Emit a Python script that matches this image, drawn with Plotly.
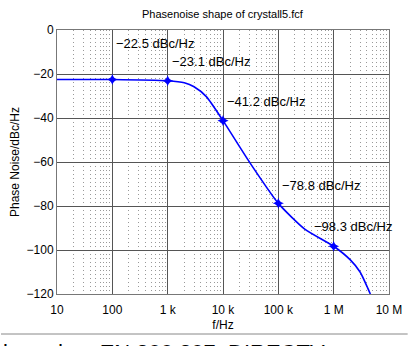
import plotly.graph_objects as go
import numpy as np

# curve (Hz, dBc/Hz)
curve_f = [10, 100, 1000, 2000, 3000, 5000, 10000, 30000, 100000, 300000, 1000000, 2000000, 3000000, 4000000, 4600000]
curve_db = [-22.5, -22.5, -23.1, -24.0, -25.8, -30.3, -41.2, -60.0, -78.8, -90.5, -98.3, -104.5, -110.0, -116.5, -120.0]

# marked points
mark_f = [100, 1000, 10000, 100000, 1000000]
mark_db = [-22.5, -23.1, -41.2, -78.8, -98.3]
mark_text = ["\u221222.5 dBc/Hz", "\u221223.1 dBc/Hz", "\u221241.2 dBc/Hz", "\u221278.8 dBc/Hz", "\u221298.3 dBc/Hz"]

xtick_vals = [10, 100, 1000, 10000, 100000, 1000000, 10000000]
xtick_text = ["10", "100", "1 k", "10 k", "100 k", "1 M", "10 M"]
ytick_vals = [0, -20, -40, -60, -80, -100, -120]
ytick_text = ["0", "\u221220", "\u221240", "\u221260", "\u221280", "\u2212100", "\u2212120"]

FONT = "Liberation Sans, Arial, sans-serif"

fig = go.Figure()
fig.add_trace(go.Scatter(x=curve_f, y=curve_db, mode="lines",
                         line=dict(color="#0000ff", width=1.6, shape="spline", smoothing=0.6),
                         hoverinfo="skip", showlegend=False))
fig.add_trace(go.Scatter(x=mark_f, y=mark_db, mode="markers",
                         marker=dict(symbol="star-diamond", size=8, color="#0000ff"),
                         showlegend=False))

# label offsets (px) relative to each marker
label_dx = [2, 2, 2, 2, -22]
label_dy = [36, 19, 19, 18, 20]
for f, v, t, dx, dy in zip(mark_f, mark_db, mark_text, label_dx, label_dy):
    fig.add_annotation(x=np.log10(f), y=v, text=t, showarrow=False,
                       xanchor="left", yanchor="middle", xshift=dx, yshift=dy,
                       font=dict(family=FONT, size=13, color="black"))

# title
fig.add_annotation(xref="paper", yref="paper", x=0.5, y=1, yshift=16,
                   text="Phasenoise shape of crystall5.fcf", showarrow=False,
                   xanchor="center", yanchor="middle",
                   font=dict(family=FONT, size=11, color="black"))

# document text below the figure (partly cut off in the reference)
fig.add_shape(type="line", xref="paper", yref="paper",
              x0=-57/338, x1=357/338, y0=-40/264, y1=-40/264,
              line=dict(color="#888888", width=1))
fig.add_annotation(xref="paper", yref="paper", x=-57/338, y=-40/264, yshift=-4,
                   text="based on EN 300 307, DIRECTV", showarrow=False,
                   xanchor="left", yanchor="top",
                   font=dict(family=FONT, size=22, color="black"))

fig.update_xaxes(type="log", range=[1, 7], tickvals=xtick_vals, ticktext=xtick_text,
                 showgrid=True, gridcolor="#555555", gridwidth=1,
                 minor=dict(dtick="D1", showgrid=True, griddash="1px,3px", gridcolor="#999999", gridwidth=1, ticks=""),
                 ticks="outside", ticklen=5, tickcolor="rgba(0,0,0,0)",
                 showline=True, linecolor="#777777", mirror=True, linewidth=1,
                 zeroline=False,
                 title=dict(text="f/Hz", standoff=4, font=dict(family=FONT, size=12, color="black")),
                 tickfont=dict(family=FONT, size=12, color="black"))
fig.update_yaxes(range=[-120, 0], tickvals=ytick_vals, ticktext=ytick_text,
                 showgrid=True, gridcolor="#555555", gridwidth=1,
                 ticks="", showline=True, linecolor="#777777", mirror=True, linewidth=1,
                 zeroline=False,
                 title=dict(text="Phase Noise/dBc/Hz", standoff=4, font=dict(family=FONT, size=12, color="black")),
                 tickfont=dict(family=FONT, size=12, color="black"))

fig.update_layout(width=414, height=346, margin=dict(l=57, r=18, t=30, b=52),
                  paper_bgcolor="white", plot_bgcolor="white",
                  font=dict(family=FONT, size=12, color="black"))

fig.write_html("out.html", config={"displayModeBar": False})
